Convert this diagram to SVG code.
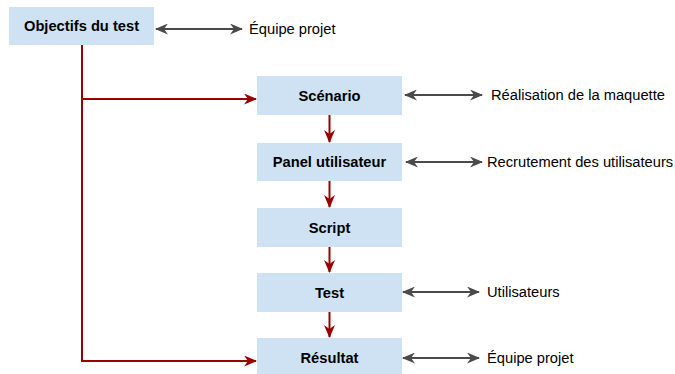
<svg xmlns="http://www.w3.org/2000/svg" width="675" height="374" viewBox="0 0 675 374">
<style>
.box{fill:#cfe2f3;stroke:none}
.bt{font-family:"Liberation Sans",Arial,sans-serif;font-size:14.7px;font-weight:bold;fill:#000;text-anchor:middle;dominant-baseline:central}
.lt{font-family:"Liberation Sans",Arial,sans-serif;font-size:14.7px;fill:#000;dominant-baseline:central}
.red{stroke:#990000;stroke-width:2;fill:none}
.grey{stroke:#4a4a4a;stroke-width:2;fill:none}
</style>
<defs>
<marker id="ag" viewBox="0 0 13 11" refX="12" refY="5.5" markerWidth="13" markerHeight="11" markerUnits="userSpaceOnUse" orient="auto-start-reverse">
<path d="M0,0 L13,5.5 L0,11 L4,5.5 Z" fill="#4a4a4a"/>
</marker>
<marker id="rh" viewBox="0 0 13 11" refX="12" refY="5.5" markerWidth="13" markerHeight="11" markerUnits="userSpaceOnUse" orient="auto">
<path d="M0,0 L13,5.5 L0,11 L4,5.5 Z" fill="#990000"/>
</marker>
</defs>
<g id="connectors">
<path class="red" d="M82,45 V361 H256" marker-end="url(#rh)"/>
<path class="red" d="M82,99 H256" marker-end="url(#rh)"/>
<path class="red" d="M329.5,115 V142" marker-end="url(#rh)"/>
<path class="red" d="M329.5,181 V207" marker-end="url(#rh)"/>
<path class="red" d="M329.5,247 V272" marker-end="url(#rh)"/>
<path class="red" d="M329.5,312 V337" marker-end="url(#rh)"/>
<path class="grey" d="M156,29 H242" marker-start="url(#ag)" marker-end="url(#ag)"/>
<path class="grey" d="M405,95 H482" marker-start="url(#ag)" marker-end="url(#ag)"/>
<path class="grey" d="M406,162 H482" marker-start="url(#ag)" marker-end="url(#ag)"/>
<path class="grey" d="M403,292 H479" marker-start="url(#ag)" marker-end="url(#ag)"/>
<path class="grey" d="M403,358 H479" marker-start="url(#ag)" marker-end="url(#ag)"/>
</g>
<g id="objectifs"><rect class="box" x="9" y="7" width="145" height="38"/><text class="bt" x="81.5" y="26">Objectifs du test</text></g>
<g id="scenario"><rect class="box" x="257" y="76" width="145" height="39"/><text class="bt" x="329.5" y="95.5">Scénario</text></g>
<g id="panel"><rect class="box" x="257" y="143" width="145" height="38"/><text class="bt" x="329.5" y="162">Panel utilisateur</text></g>
<g id="script"><rect class="box" x="257" y="208" width="145" height="39"/><text class="bt" x="329.5" y="227.5">Script</text></g>
<g id="test"><rect class="box" x="257" y="273" width="145" height="39"/><text class="bt" x="329.5" y="292.5">Test</text></g>
<g id="resultat"><rect class="box" x="257" y="338" width="145" height="39"/><text class="bt" x="329.5" y="357.5">Résultat</text></g>
<g id="label-equipe1"><text class="lt" x="249" y="29">Équipe projet</text></g>
<g id="label-maquette"><text class="lt" x="491" y="95">Réalisation de la maquette</text></g>
<g id="label-recrutement"><text class="lt" x="487" y="162">Recrutement des utilisateurs</text></g>
<g id="label-utilisateurs"><text class="lt" x="487" y="292">Utilisateurs</text></g>
<g id="label-equipe2"><text class="lt" x="487" y="358">Équipe projet</text></g>
</svg>
